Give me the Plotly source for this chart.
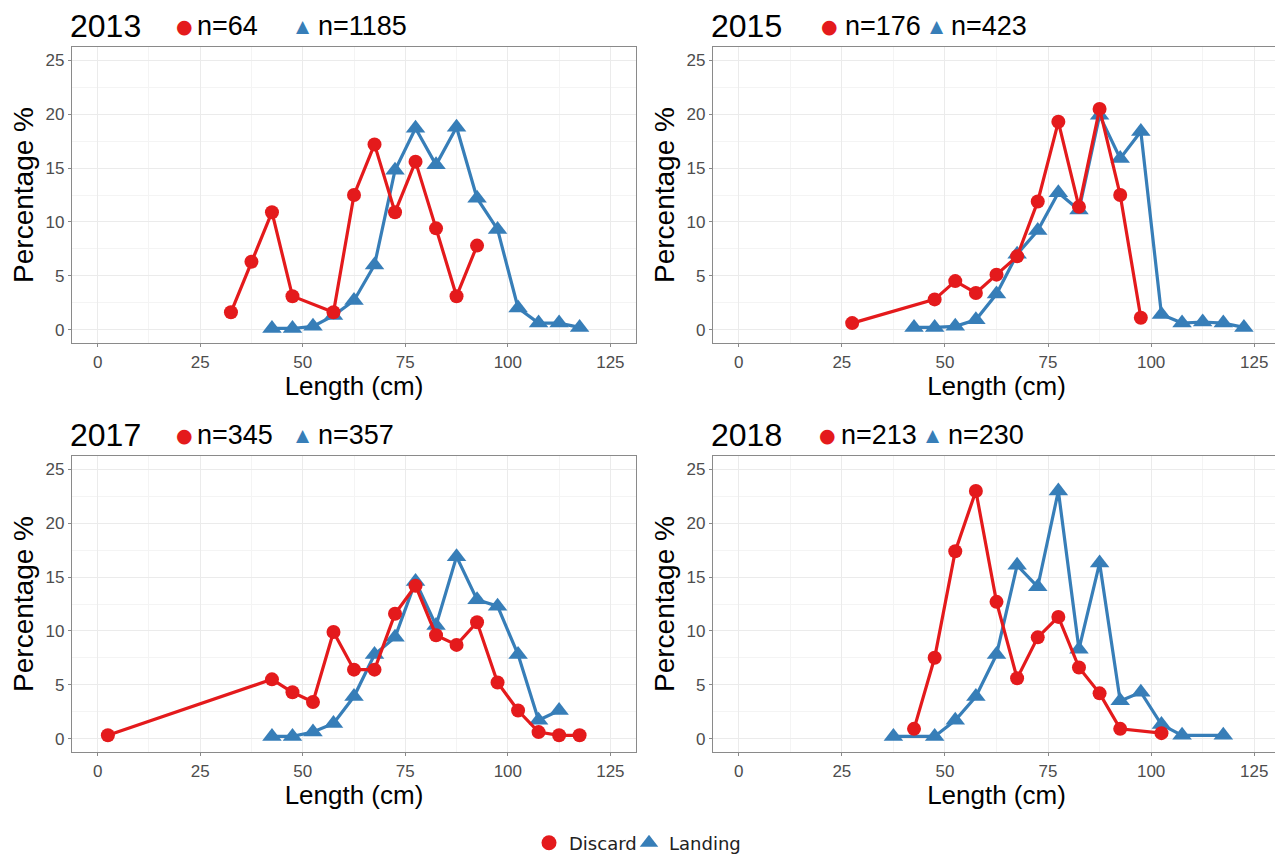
import plotly.graph_objects as go

# ---------------- data ----------------
years = ["2013", "2015", "2017", "2018"]
n_discard = ["n=64", "n=176", "n=345", "n=213"]
n_landing = ["n=1185", "n=423", "n=357", "n=230"]

d2013_x = [32.5, 37.5, 42.5, 47.5, 57.5, 62.5, 67.5, 72.5, 77.5, 82.5, 87.5, 92.5]
d2013_y = [1.6, 6.3, 10.9, 3.1, 1.6, 12.5, 17.2, 10.9, 15.6, 9.4, 3.1, 7.8]
l2013_x = [42.5, 47.5, 52.5, 57.5, 62.5, 67.5, 72.5, 77.5, 82.5, 87.5, 92.5, 97.5, 102.5, 107.5, 112.5, 117.5]
l2013_y = [0.1, 0.1, 0.3, 1.3, 2.7, 6.0, 14.8, 18.7, 15.3, 18.8, 12.2, 9.3, 2.0, 0.6, 0.6, 0.2]

d2015_x = [27.5, 47.5, 52.5, 57.5, 62.5, 67.5, 72.5, 77.5, 82.5, 87.5, 92.5, 97.5]
d2015_y = [0.6, 2.8, 4.5, 3.4, 5.1, 6.8, 11.9, 19.3, 11.4, 20.5, 12.5, 1.1]
l2015_x = [42.5, 47.5, 52.5, 57.5, 62.5, 67.5, 72.5, 77.5, 82.5, 87.5, 92.5, 97.5, 102.5, 107.5, 112.5, 117.5, 122.5]
l2015_y = [0.2, 0.2, 0.3, 0.9, 3.3, 7.0, 9.2, 12.7, 11.1, 19.9, 15.9, 18.4, 1.4, 0.6, 0.7, 0.6, 0.2]

d2017_x = [2.5, 42.5, 47.5, 52.5, 57.5, 62.5, 67.5, 72.5, 77.5, 82.5, 87.5, 92.5, 97.5, 102.5, 107.5, 112.5, 117.5]
d2017_y = [0.3, 5.5, 4.3, 3.4, 9.9, 6.4, 6.4, 11.6, 14.2, 9.6, 8.7, 10.8, 5.2, 2.6, 0.6, 0.3, 0.3]
l2017_x = [42.5, 47.5, 52.5, 57.5, 62.5, 67.5, 72.5, 77.5, 82.5, 87.5, 92.5, 97.5, 102.5, 107.5, 112.5]
l2017_y = [0.2, 0.2, 0.6, 1.4, 3.9, 7.8, 9.4, 14.6, 10.5, 16.9, 12.9, 12.3, 7.8, 1.7, 2.6]

d2018_x = [42.5, 47.5, 52.5, 57.5, 62.5, 67.5, 72.5, 77.5, 82.5, 87.5, 92.5, 102.5]
d2018_y = [0.9, 7.5, 17.4, 23.0, 12.7, 5.6, 9.4, 11.3, 6.6, 4.2, 0.9, 0.5]
l2018_x = [37.5, 47.5, 52.5, 57.5, 62.5, 67.5, 72.5, 77.5, 82.5, 87.5, 92.5, 97.5, 102.5, 107.5, 117.5]
l2018_y = [0.2, 0.2, 1.7, 3.9, 7.8, 16.1, 14.1, 23.0, 8.3, 16.3, 3.5, 4.3, 1.3, 0.3, 0.3]

discard = [(d2013_x, d2013_y), (d2015_x, d2015_y), (d2017_x, d2017_y), (d2018_x, d2018_y)]
landing = [(l2013_x, l2013_y), (l2015_x, l2015_y), (l2017_x, l2017_y), (l2018_x, l2018_y)]

x_ticks = [0, 25, 50, 75, 100, 125]
y_ticks = [0, 5, 10, 15, 20, 25]

# ---------------- style ----------------
OFF = 8                      # page body margin
W, H = 1283 - OFF, 854 - OFF
RED = "#E41A1C"
BLUE = "#377EB8"
FONT = "Liberation Sans, Arial, sans-serif"

# panel boxes in screen pixels (left, right, top, bottom)
boxes = [(72, 636, 47, 343), (713, 1280, 47, 343),
         (72, 636, 456, 752), (713, 1280, 456, 752)]
# header positions in screen pixels: dot, n text, triangle, n text
heads = [(184, 197, 303, 318), (830, 845, 937, 951),
         (184, 197, 303, 318), (827, 841, 933, 948)]


def px(x):
    return (x - OFF) / W


def py(y):
    return 1 - (y - OFF) / H


fig = go.Figure()

for i in range(4):
    ax = "" if i == 0 else str(i + 1)
    dx, dy = discard[i]
    lx, ly = landing[i]
    fig.add_trace(go.Scatter(
        x=lx, y=ly, mode="lines+markers", name="Landing",
        line=dict(color=BLUE, width=3.2),
        marker=dict(symbol="triangle-up", size=17, color=BLUE),
        xaxis="x" + ax, yaxis="y" + ax, showlegend=False))
    fig.add_trace(go.Scatter(
        x=dx, y=dy, mode="lines+markers", name="Discard",
        line=dict(color=RED, width=3.2),
        marker=dict(symbol="circle", size=14, color=RED),
        xaxis="x" + ax, yaxis="y" + ax, showlegend=False))

# legend-only entries (compact keys like the ggplot legend)
fig.add_trace(go.Scatter(x=[None], y=[None], mode="markers", name="Discard",
                         marker=dict(symbol="circle", size=15, color=RED),
                         showlegend=True, legend="legend"))
fig.add_trace(go.Scatter(x=[None], y=[None], mode="markers", name="Landing",
                         marker=dict(symbol="triangle-up", size=16, color=BLUE),
                         showlegend=True, legend="legend2"))

leg_common = dict(orientation="h", xanchor="left", yanchor="middle", y=py(843),
                  font=dict(size=18, color="#222222", family="DejaVu Sans, sans-serif"),
                  itemwidth=30, bgcolor="rgba(0,0,0,0)")

layout = dict(
    width=W, height=H,
    margin=dict(l=0, r=0, t=0, b=0, autoexpand=False),
    paper_bgcolor="white", plot_bgcolor="white",
    font=dict(family=FONT, color="black"),
    showlegend=True,
    legend=dict(x=px(529), **leg_common),
    legend2=dict(x=px(629), **leg_common),
)

annotations = []
for i, (l, r, t, b) in enumerate(boxes):
    key = "" if i == 0 else str(i + 1)
    xd = [px(l), px(r)]
    yd = [py(b), py(t)]
    common = dict(showline=True, linecolor="#8a8a8a", linewidth=1.2, mirror=True,
                  ticks="outside", ticklen=3, tickcolor="#8a8a8a",
                  tickfont=dict(size=17, color="#4D4D4D", family=FONT),
                  showgrid=True, gridcolor="#EBEBEB", gridwidth=1,
                  zeroline=False)
    layout["xaxis" + key] = dict(
        domain=xd, anchor="y" + key, range=[-6.25, 131.25],
        tickvals=x_ticks,
        minor=dict(dtick=12.5, tick0=0, showgrid=True, gridcolor="#F4F4F4", ticks=""),
        title=dict(text="Length (cm)", standoff=1,
                   font=dict(size=26, color="black", family=FONT)), **common)
    layout["yaxis" + key] = dict(
        domain=yd, anchor="x" + key, range=[-1.25, 26.25],
        tickvals=y_ticks,
        minor=dict(dtick=2.5, tick0=0, showgrid=True, gridcolor="#F4F4F4", ticks=""),
        title=dict(text="Percentage %", standoff=3,
                   font=dict(size=28, color="black", family=FONT)), **common)

    yc = py(t - 21)
    dotx, n1x, trix, n2x = heads[i]
    annotations.append(dict(text=years[i], x=px(l - 4), y=yc, xref="paper", yref="paper",
                            xanchor="left", yanchor="middle", showarrow=False,
                            font=dict(size=32, color="black", family=FONT)))
    annotations.append(dict(text="●", x=px(dotx), y=yc, xref="paper", yref="paper",
                            xanchor="center", yanchor="middle", showarrow=False,
                            font=dict(size=19, color=RED, family="DejaVu Sans")))
    annotations.append(dict(text=n_discard[i], x=px(n1x - 2), y=yc, xref="paper", yref="paper",
                            xanchor="left", yanchor="middle", showarrow=False,
                            font=dict(size=27, color="black", family=FONT)))
    annotations.append(dict(text="▲", x=px(trix), y=yc, xref="paper", yref="paper",
                            xanchor="center", yanchor="middle", showarrow=False,
                            font=dict(size=17, color=BLUE, family="DejaVu Sans")))
    annotations.append(dict(text=n_landing[i], x=px(n2x - 2), y=yc, xref="paper", yref="paper",
                            xanchor="left", yanchor="middle", showarrow=False,
                            font=dict(size=27, color="black", family=FONT)))

layout["annotations"] = annotations
fig.update_layout(**layout)
fig.write_html("out.html")
